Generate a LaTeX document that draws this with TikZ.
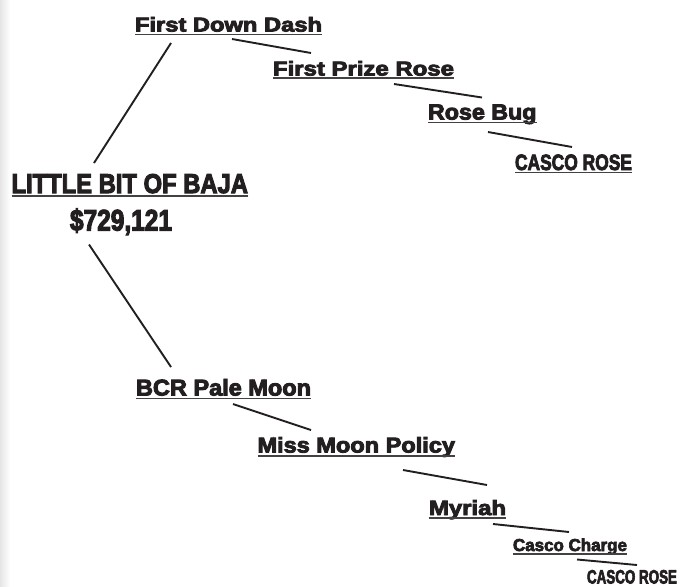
\documentclass[tikz,border=0pt]{standalone}
\usepackage{graphicx}
\usepackage{fontspec}
\setmainfont{Liberation Sans}
\newfontfamily\heavy[FakeBold=4]{Liberation Sans Bold}
\usetikzlibrary{calc}
\definecolor{ink}{HTML}{231F20}
\newcommand{\fitt}[3]{\resizebox{#1pt}{#2pt}{\heavy #3}}
\tikzset{
  lbl/.style={inner sep=0pt, outer sep=0pt, anchor=base west, text=ink},
  conn/.style={draw=ink, line width=1.9pt},
  uline/.style={draw=ink!85, line width=1.5pt},
}
\begin{document}
\begin{tikzpicture}[x=1pt,y=-1pt]
\useasboundingbox (0,0) rectangle (681,587);
\shade[left color=black!10, right color=white] (0,0) rectangle (10,587);
% labels
\node[lbl] (dd)  at (135,31.5)  {\fitt{187}{14.5}{First Down Dash}};
\node[lbl] (fp)  at (273,75.5)  {\fitt{181}{14.5}{First Prize Rose}};
\node[lbl] (rb)  at (428,119.5) {\fitt{108.5}{15}{Rose Bug}};
\node[lbl] (cra) at (515,170)   {\fitt{117}{15.5}{CASCO ROSE}};
\node[lbl] (lbb) at (11.5,193)  {\fitt{236.5}{19}{LITTLE BIT OF BAJA}};
\node[lbl] (mon) at (70,230.5)  {\fitt{102}{22}{\$729,121}};
\node[lbl] (bcr) at (136,395.5) {\fitt{175}{16.5}{BCR Pale Moon}};
\node[lbl] (mmp) at (257.5,452.5) {\fitt{197.5}{15.5}{Miss Moon Policy}};
\node[lbl] (my)  at (429,515)   {\fitt{77}{15}{Myriah}};
\node[lbl] (cc)  at (513,551)   {\fitt{114}{12.5}{Casco Charge}};
\node[lbl] (crb) at (587,583.5) {\fitt{90}{13.5}{CASCO ROSE}};
% underlines
\foreach \n/\d in {dd/3,fp/2.5,rb/3,cra/2.5,lbb/3,bcr/3,mmp/3.5,my/3,cc/3}{
  \draw[uline] ($(\n.base west)+(0,\d)$) -- ($(\n.base east)+(0,\d)$);
}
% connectors
\draw[conn] ($(dd.base west)+(36,11.5)$) -- ($(lbb.base west)+(82.5,-30)$);
\draw[conn] ($(dd.base west)+(97,7.5)$) -- ($(fp.base west)+(38,-22.5)$);
\draw[conn] ($(fp.base west)+(121,8.5)$) -- ($(rb.base west)+(54,-22)$);
\draw[conn] ($(rb.base west)+(60,12.5)$) -- ($(cra.base west)+(57,-23)$);
\draw[conn] ($(mon.base west)+(19,14)$) -- ($(bcr.base west)+(35,-28.5)$);
\draw[conn] ($(bcr.base west)+(97,8.5)$) -- ($(mmp.base west)+(53.5,-22.5)$);
\draw[conn] ($(mmp.base west)+(145.5,17.5)$) -- ($(my.base west)+(58,-30)$);
\draw[conn] ($(my.base west)+(64,9)$) -- ($(cc.base west)+(56,-19)$);
\draw[conn] ($(cc.base west)+(64,8.5)$) -- ($(crb.base west)+(50,-18.5)$);
\end{tikzpicture}
\end{document}
